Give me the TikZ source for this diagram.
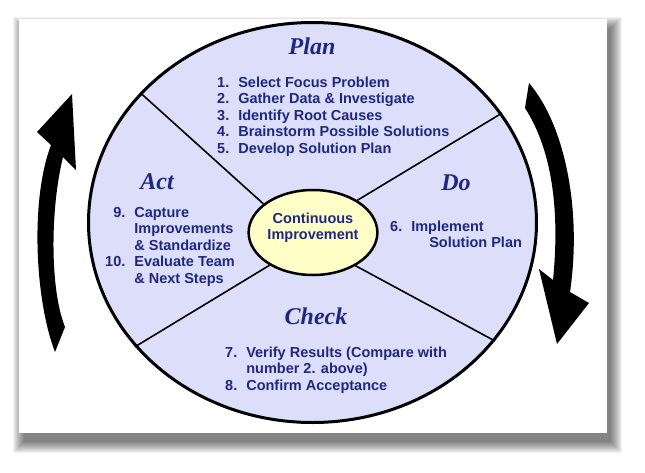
\documentclass[tikz,border=0pt]{standalone}
\usepackage{fontspec}
\setmainfont{Liberation Sans}
\newfontfamily\titlefont{Liberation Serif}
\usetikzlibrary{shapes.geometric}

\definecolor{wheelFill}{RGB}{220,222,250}
\definecolor{hubFill}{RGB}{255,255,200}
\definecolor{navyText}{RGB}{30,40,128}

\begin{document}
\begin{tikzpicture}[x=1pt, y=-1pt,
    stage/.style={font=\titlefont\bfseries\itshape\fontsize{24}{27}\selectfont, text=navyText, anchor=base, inner sep=0pt},
    steps/.style={font=\bfseries\fontsize{14.5}{16.6}\selectfont, text=navyText, anchor=base west, inner sep=0pt},
    divider/.style={line width=1.6pt}]
    % Define the page and the panel with its shadow
    \fill[white] (0,0) rectangle (645,472);
    \useasboundingbox (0,0) rectangle (645,472);
    \foreach \s in {0,...,11}
        \fill[black, opacity=.05] ({24-\s},{28-\s}) rectangle ({611+\s},{442+\s});
    \fill[white] (19,19) rectangle (607,433);

    % Draw the wheel and the hub
    \node[ellipse, draw, line width=3pt, fill=wheelFill, minimum width=448pt, minimum height=400pt, inner sep=0pt] (wheel) at (312.5,222.5) {};
    \node[ellipse, draw, line width=2.5pt, fill=hubFill, minimum width=108pt, minimum height=85pt, inner sep=0pt,
          font=\bfseries\fontsize{14.5}{16.6}\selectfont, text=navyText, text depth=30.6pt] (hub) at (313,232.5)
          {\begin{tabular}[t]{@{}c@{}}Continuous\\Improvement\end{tabular}};

    % Draw the dividers
    \foreach \a/\b in {143/150, 30/36, 215/217, 327/322}
        \draw[divider] (wheel.\a) -- (hub.\b);

    % Draw the labels
    \node[stage] (planTitle) at (312,54) {Plan};
    \node[stage] (actTitle) at (157,189) {Act};
    \node[stage] (doTitle) at (456,190) {Do};
    \node[stage] (checkTitle) at (316,324) {Check};

    \node[steps] (planSteps) at (217,87) {\begin{tabular}[t]{@{}r@{\hspace{9pt}}l@{}}
        1. & Select Focus Problem\\
        2. & Gather Data \& Investigate\\
        3. & Identify Root Causes\\
        4. & Brainstorm Possible Solutions\\
        5. & Develop Solution Plan
    \end{tabular}};
    \node[steps] (doSteps) at (390,231) {\begin{tabular}[t]{@{}r@{\hspace{9pt}}l@{}}
        6. & Implement\\
           & \hspace*{18pt}Solution Plan
    \end{tabular}};
    \node[steps] (checkSteps) at (225,357) {\begin{tabular}[t]{@{}r@{\hspace{9pt}}l@{}}
        7. & Verify Results (Compare with\\
           & number 2. above)\\
        8. & Confirm Acceptance
    \end{tabular}};
    \node[steps] (actSteps) at (105,217) {\begin{tabular}[t]{@{}r@{\hspace{9pt}}l@{}}
        9. & Capture\\
           & Improvements\\
           & \& Standardize\\
        10. & Evaluate Team\\
           & \& Next Steps
    \end{tabular}};

    % Draw the cycle arrows
    \fill (55,352) .. controls (35,300) and (30,200) .. (51,145) -- (37,132) -- (72,94) -- (76,170) -- (63,157)
        .. controls (50,210) and (50,290) .. (65,327) -- cycle;
    \fill (529,83) .. controls (565,125) and (582,210) .. (570,292) -- (589,303) -- (557,344) -- (539,269) -- (553,280)
        .. controls (560,210) and (552,150) .. (525,108) -- cycle;
\end{tikzpicture}
\end{document}
